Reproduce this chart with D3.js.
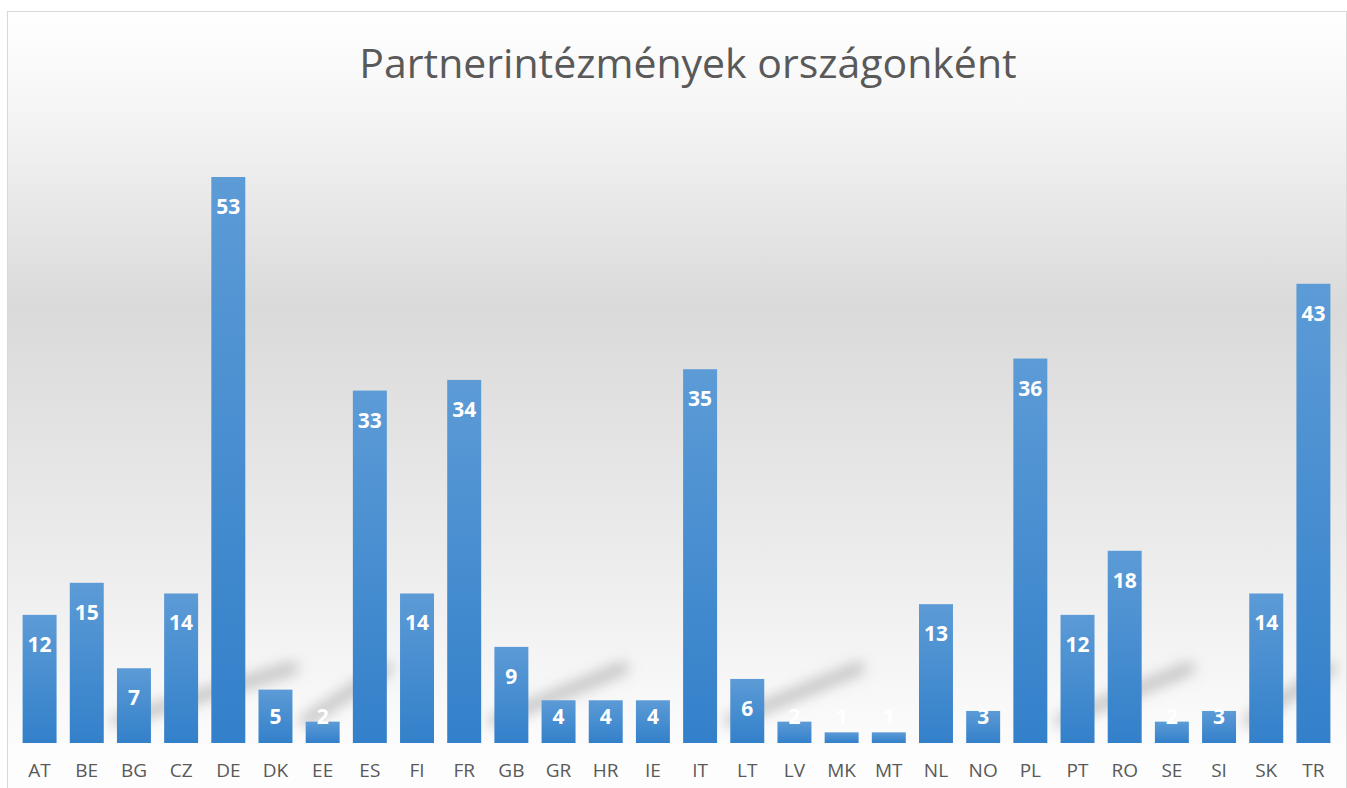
<!DOCTYPE html>
<html>
<head>
<meta charset="utf-8">
<script src="https://cdn.jsdelivr.net/npm/d3@7"></script>
<style>
  body { margin: 0; background: #fff; }
  svg { display: block; font-family: "Open Sans", "Noto Sans", sans-serif; }
</style>
</head>
<body>
<div id="chart"></div>
<script>
/* DATA */
const countries = ["AT","BE","BG","CZ","DE","DK","EE","ES","FI","FR","GB","GR","HR","IE","IT","LT","LV","MK","MT","NL","NO","PL","PT","RO","SE","SI","SK","TR"];
const partners = [12,15,7,14,53,5,2,33,14,34,9,4,4,4,35,6,2,1,1,13,3,36,12,18,2,3,14,43];
const title = "Partnerintézmények országonként";
// reflection streaks in the background, from category to category
const streaks = [["BG","DK"],["EE","ES"],["GB","HR"],["LT","MK"],["PT","SE"],["SK","TR"]];

/* LAYOUT */
const width = 1347, height = 788;
const margin = { top: 120, bottom: 45, left: 16, right: 10 };

const svg = d3.select("#chart").append("svg")
  .attr("width", width)
  .attr("height", height);

const defs = svg.append("defs");

// chart background gradient (white -> grey -> white)
const bg = defs.append("linearGradient").attr("id", "bg")
  .attr("x1", 0).attr("y1", 0).attr("x2", 0).attr("y2", 1);
bg.append("stop").attr("offset", "0%").attr("stop-color", "#ffffff");
bg.append("stop").attr("offset", "12%").attr("stop-color", "#f6f6f6");
bg.append("stop").attr("offset", "38%").attr("stop-color", "#dadada");
bg.append("stop").attr("offset", "70%").attr("stop-color", "#ececec");
bg.append("stop").attr("offset", "93%").attr("stop-color", "#fbfbfb");
bg.append("stop").attr("offset", "100%").attr("stop-color", "#ffffff");

// bar gradient
const barGrad = defs.append("linearGradient").attr("id", "barGrad")
  .attr("x1", 0).attr("y1", 0).attr("x2", 0).attr("y2", 1);
barGrad.append("stop").attr("offset", "0%").attr("stop-color", "#5c9bd6");
barGrad.append("stop").attr("offset", "100%").attr("stop-color", "#3380ca");

defs.append("filter").attr("id", "blur")
  .attr("x", "-30%").attr("y", "-80%").attr("width", "160%").attr("height", "260%")
  .append("feGaussianBlur").attr("stdDeviation", 7);

// background + border
svg.append("rect")
  .attr("x", 7.5).attr("y", 11.5)
  .attr("width", width - 8).attr("height", height - 11)
  .attr("fill", "url(#bg)")
  .attr("stroke", "#d9d9d9");

/* SCALES */
const x = d3.scaleBand()
  .domain(countries)
  .range([margin.left, width - margin.right])
  .paddingInner(0.28)
  .paddingOuter(0.14);

const y = d3.scaleLinear()
  .domain([0, 53])
  .range([height - margin.bottom, 177]);

// white band under baseline
svg.append("rect")
  .attr("x", 8).attr("y", y(0) + 2)
  .attr("width", width - 9).attr("height", height - y(0) - 2)
  .attr("fill", "#fdfdfd").attr("opacity", 0.85);

// reflection streaks
svg.append("g").attr("filter", "url(#blur)")
  .selectAll("line")
  .data(streaks)
  .join("line")
  .attr("x1", d => x(d[0]))
  .attr("y1", y(0) - 22)
  .attr("x2", d => x(d[1]) + x.bandwidth())
  .attr("y2", y(7))
  .attr("stroke", "#8a8a8a")
  .attr("stroke-opacity", 0.5)
  .attr("stroke-width", 12)
  .attr("stroke-linecap", "round");

/* TITLE */
svg.append("text")
  .attr("x", 688)
  .attr("y", 78)
  .attr("text-anchor", "middle")
  .attr("fill", "#595959")
  .attr("font-size", 41)
  .text(title);

/* BARS */
const data = countries.map((c, i) => ({ country: c, value: partners[i] }));

svg.append("g")
  .selectAll("rect")
  .data(data)
  .join("rect")
  .attr("x", d => x(d.country))
  .attr("y", d => y(d.value))
  .attr("width", x.bandwidth())
  .attr("height", d => y(0) - y(d.value))
  .attr("fill", "url(#barGrad)");

/* VALUE LABELS */
svg.append("g")
  .selectAll("text")
  .data(data)
  .join("text")
  .attr("x", d => x(d.country) + x.bandwidth() / 2)
  .attr("y", d => Math.min(y(d.value) + 37, y(0) - 19))
  .attr("text-anchor", "middle")
  .attr("fill", "#ffffff")
  .attr("font-size", 21)
  .attr("font-weight", "bold")
  .text(d => d.value);

/* X AXIS */
const xAxis = d3.axisBottom(x).tickSize(0).tickPadding(21);
svg.append("g")
  .attr("transform", `translate(0, ${y(0)})`)
  .call(xAxis)
  .call(g => g.select(".domain").remove())
  .selectAll("text")
  .attr("fill", "#595959")
  .attr("font-size", 19)
  .attr("font-family", "'Open Sans', 'Noto Sans', sans-serif");
</script>
</body>
</html>
